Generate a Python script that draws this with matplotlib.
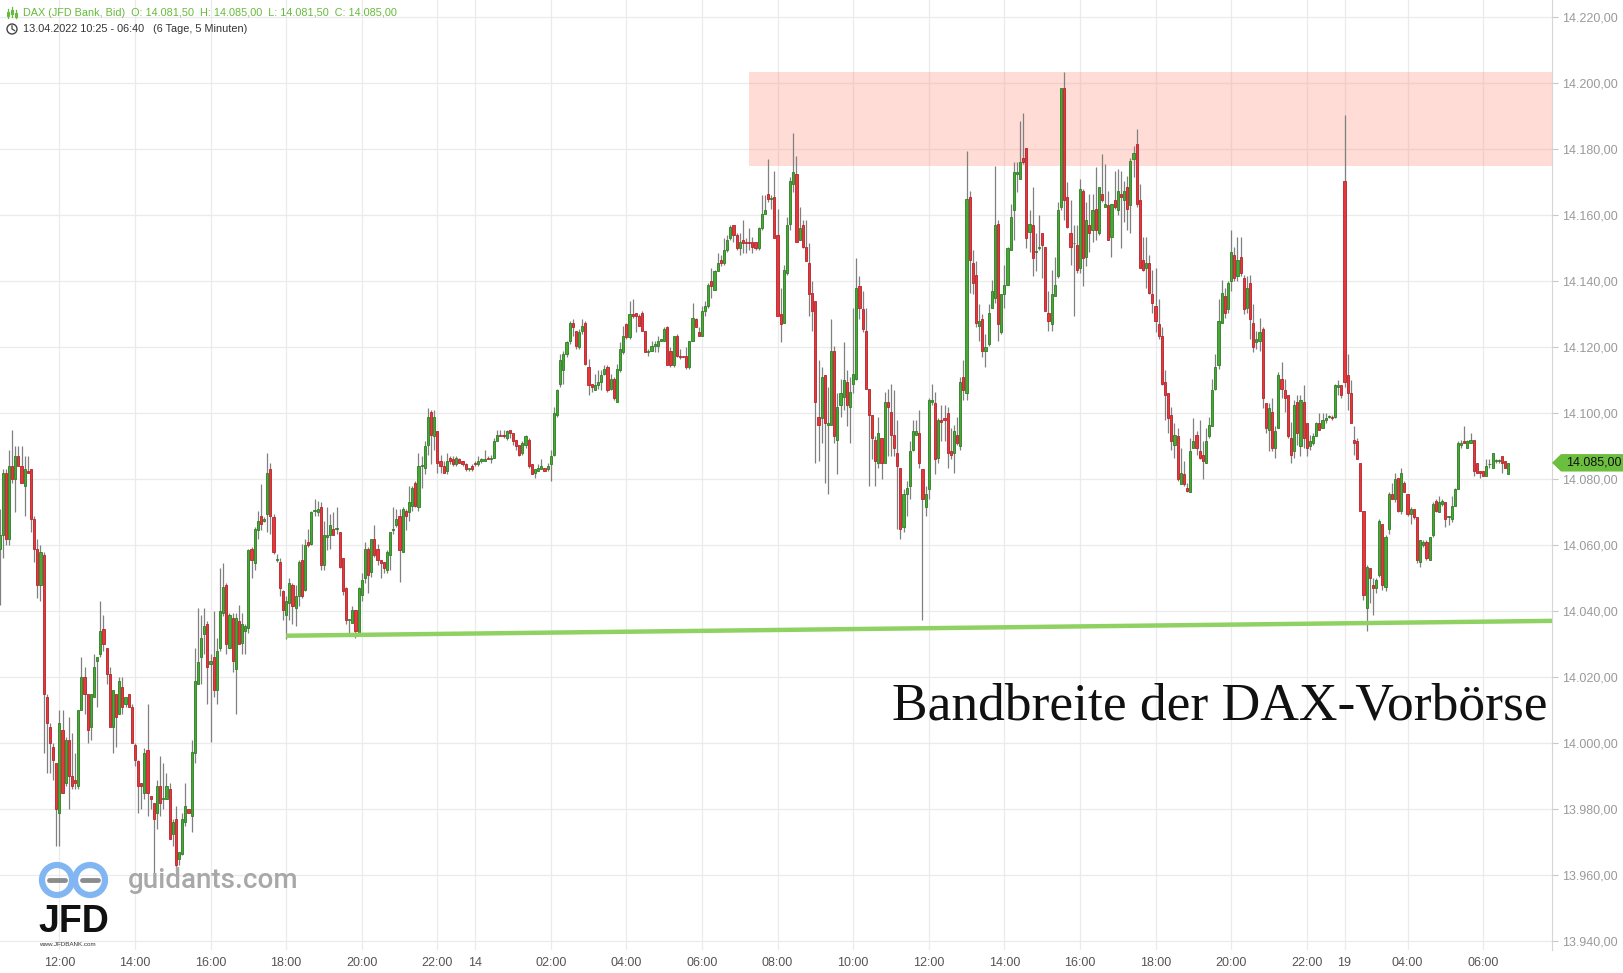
import numpy as np
import pandas as pd
import matplotlib
matplotlib.use("Agg")
import matplotlib.pyplot as plt
from matplotlib.patches import Rectangle, Circle, Polygon

plt.rcParams["font.family"] = ["Liberation Sans", "DejaVu Sans"]

# trading sessions, 5 minute candles (easter weekend is skipped on the axis)
sessions = [
    ("2022-04-13 10:25", "2022-04-13 22:55"),
    ("2022-04-14 00:00", "2022-04-14 22:55"),
    ("2022-04-19 02:20", "2022-04-19 06:40"),
]

opens = [
    14059, 14063, 14082, 14062, 14084, 14080, 14087, 14084, 14078, 14082.5, 14083, 14068,
    14059, 14048, 14057, 14014, 14005, 13999, 13994, 13979, 14004, 13988, 14001, 13990,
    13989, 13987, 14010, 14020, 14015, 14005, 14014, 14025, 14027, 14034.5, 14029, 14021,
    14005, 14015, 14009, 14017, 14012, 14015, 14011, 13999.5, 13994.5, 13988, 13985, 13998,
    13984, 13982, 13979, 13987, 13983, 13983, 13986, 13972.5, 13977, 13965, 13966.5, 13976,
    13980, 13978, 13997, 14018, 14026, 14033, 14036, 14024, 14026, 14016, 14029, 14039.5,
    14048, 14029, 14038, 14022.5, 14037, 14030.5, 14034, 14035, 14059, 14054.5, 14064.5, 14069,
    14067.5, 14069.5, 14083, 14068.5, 14055.5, 14055, 14046, 14039, 14042.5, 14048, 14041, 14044.5,
    14055.5, 14046.5, 14061, 14060.5, 14070.5, 14070, 14071.5, 14054, 14062.5, 14063, 14065, 14065,
    14064, 14056, 14047, 14037.5, 14036.5, 14040.5, 14033.5, 14045, 14050, 14059, 14052, 14062,
    14059, 14055.5, 14055, 14052.5, 14057, 14064.5, 14066, 14069, 14058, 14070.5, 14070, 14072,
    14079, 14071.5, 14084, 14083.5, 14090.5, 14100.5, 14093, 14094.5, 14085.5, 14084, 14082.5, 14086.5,
    14086, 14084.5, 14086, 14085.5, 14084.5, 14083, 14084, 14085, 14084.5, 14085.5, 14085.5, 14086.5,
    14086, 14086.5, 14091.5, 14093.5, 14093.5, 14092.5, 14095, 14094, 14092, 14090.5, 14088, 14090.5,
    14092, 14084.5, 14082, 14082.5, 14083, 14083.5, 14083, 14084.5, 14087.5, 14099.5, 14109, 14113,
    14118, 14122, 14127.5, 14125, 14120, 14125, 14127.5, 14114, 14109, 14107, 14108.5, 14109.5,
    14112, 14114, 14107.5, 14110.5, 14103.5, 14113, 14118.5, 14127, 14123, 14130, 14130.5, 14129.5,
    14130.5, 14125, 14118.5, 14119, 14120.5, 14120.5, 14122, 14122, 14126, 14119, 14114.5, 14123.5,
    14117.5, 14117.5, 14117.5, 14114, 14122, 14128.5, 14124.5, 14123.5, 14131, 14132.5, 14140, 14137.5,
    14143, 14146.5, 14145.5, 14149.5, 14153, 14157, 14154, 14150, 14152.5, 14152, 14152, 14152,
    14152, 14150, 14156, 14160.5, 14166.5, 14165, 14165.5, 14154, 14130, 14127.5, 14142.5, 14157.5,
    14169.5, 14172.5, 14152.5, 14157, 14150.5, 14145.5, 14136.5, 14134, 14099, 14098.5, 14111.5, 14096.5,
    14096.5, 14119, 14092, 14102.5, 14105, 14109.5, 14102, 14109, 14110.5, 14138.5, 14131.5, 14125,
    14107.5, 14099.5, 14092, 14085, 14092.5, 14085, 14103.5, 14100.5, 14093.5, 14088, 14083.5, 14065.5,
    14075.5, 14078, 14089, 14093.5, 14094, 14083, 14071.5, 14077, 14103.5, 14103, 14086.5, 14098,
    14098.5, 14100, 14088.5, 14088, 14093.5, 14090, 14111, 14106, 14165.5, 14145.5, 14142, 14126.5,
    14128.5, 14119, 14121, 14132, 14135, 14157.5, 14124.5, 14136, 14139, 14149.5, 14161.5, 14172.5,
    14171, 14177.5, 14180.5, 14155, 14157, 14149, 14150, 14154.5, 14150.5, 14130.5, 14127, 14135.5,
    14141.5, 14162.5, 14198.5, 14165.5, 14154.5, 14151.5, 14151, 14144, 14167.5, 14147.5, 14157, 14155.5,
    14162, 14154.5, 14166.5, 14162.5, 14163, 14153.5, 14164.5, 14161.5, 14166.5, 14164.5, 14168.5, 14163,
    14177, 14181.5, 14164.5, 14146.5, 14144, 14145.5, 14136, 14132.5, 14127, 14123.5, 14109.5, 14106,
    14099.5, 14090.5, 14093, 14078.5, 14081.5, 14077.5, 14076, 14089.5, 14093.5, 14088.5, 14087.5, 14085,
    14093, 14096, 14107.5, 14114.5, 14127.5, 14135.5, 14131.5, 14140, 14148, 14141.5, 14147.5, 14141,
    14132, 14139.5, 14127.5, 14121.5, 14122, 14125.5, 14103, 14095, 14100.5, 14089.5, 14095.5, 14110.5,
    14107, 14105.5, 14092.5, 14088.5, 14103.5, 14090, 14103.5, 14097, 14090, 14091, 14093, 14097,
    14095.5, 14098, 14099, 14099, 14099, 14108, 14108.5, 14170.5, 14111.5, 14106, 14092, 14091.5,
    14085, 14070.5, 14041, 14053, 14048, 14047, 14051, 14066.5, 14047.5, 14065, 14075.5, 14074,
    14080.5, 14070.5, 14079, 14075.5, 14069.5, 14071, 14068.5, 14055, 14060, 14061, 14055.5, 14063,
    14073.5, 14070, 14072.5, 14073, 14068.5, 14068, 14072, 14077, 14090.5, 14091.5, 14089.5, 14091,
    14092, 14085, 14082.5, 14082.5, 14081, 14084.5, 14083.5, 14085.5, 14085.5, 14087, 14085.5, 14081.5,
]

highs = [
    14071, 14083, 14083, 14089, 14095, 14090, 14090, 14090, 14087, 14087, 14083, 14069,
    14062, 14060, 14058, 14015, 14006, 14000, 13994, 14010, 14010, 14002, 14008, 14003,
    13997, 14010, 14026, 14023, 14015, 14015, 14027, 14026, 14043, 14039, 14029, 14023,
    14016, 14015, 14020, 14020, 14014, 14015, 14012, 14000, 13995, 13988, 13998.5, 14012,
    13984, 13982, 13989, 13996, 13994, 13991, 13988, 13977, 13981, 13967, 13979, 13988,
    13980, 14001, 14029, 14041, 14039, 14041, 14037, 14027, 14040, 14032, 14053, 14054.5,
    14048.5, 14039.5, 14039.5, 14039.5, 14042, 14039.5, 14036, 14059, 14059.5, 14065.5, 14070.5, 14078.5,
    14068.5, 14088, 14085, 14069.5, 14057.5, 14056, 14046.5, 14044.5, 14050, 14048.5, 14048, 14055.5,
    14060.5, 14062, 14065, 14070.5, 14074, 14073.5, 14073, 14067.5, 14071.5, 14069.5, 14070, 14071.5,
    14064, 14056, 14047.5, 14037.5, 14041.5, 14040.5, 14047.5, 14051.5, 14061, 14059.5, 14062, 14066,
    14060.5, 14055.5, 14055, 14058.5, 14064, 14071.5, 14071, 14071, 14071.5, 14071, 14078, 14078,
    14079.5, 14088, 14087, 14091.5, 14101.5, 14101, 14101, 14094.5, 14087.5, 14085.5, 14088, 14087,
    14087, 14087, 14086.5, 14085.5, 14085, 14083.5, 14084.5, 14085.5, 14087, 14086.5, 14089, 14087,
    14087.5, 14092.5, 14095, 14095, 14095, 14095, 14095, 14094, 14092, 14090.5, 14091.5, 14093.5,
    14092.5, 14084.5, 14083, 14084.5, 14086, 14083.5, 14085, 14089, 14102, 14107.5, 14118, 14119,
    14122, 14128, 14128.5, 14125, 14125.5, 14128.5, 14128, 14116.5, 14109, 14112, 14113, 14113,
    14114.5, 14114.5, 14112, 14111, 14115, 14121.5, 14126.5, 14127.5, 14134, 14134.5, 14130.5, 14130,
    14131, 14125, 14119.5, 14122, 14122, 14123.5, 14122.5, 14126, 14126.5, 14120, 14123.5, 14124,
    14119.5, 14117.5, 14120, 14122, 14133.5, 14129, 14126, 14132.5, 14134, 14139.5, 14144, 14143.5,
    14148.5, 14148, 14153, 14154, 14157, 14157, 14154.5, 14154.5, 14158.5, 14153, 14156, 14153.5,
    14152, 14156.5, 14166, 14166, 14177, 14166, 14173.5, 14162, 14138, 14145, 14159.5, 14171.5,
    14185, 14178, 14162.5, 14158.5, 14158.5, 14151.5, 14140, 14134, 14116, 14114, 14111.5, 14108,
    14128.5, 14120.5, 14106, 14110.5, 14121.5, 14113, 14111, 14132, 14147, 14141.5, 14137, 14132,
    14107.5, 14099.5, 14093, 14099, 14092.5, 14106.5, 14107.5, 14109, 14107, 14098, 14083.5, 14077,
    14079.5, 14091.5, 14098, 14098, 14101, 14083, 14078, 14104.5, 14109, 14106.5, 14098.5, 14102.5,
    14102.5, 14102, 14095.5, 14096.5, 14099, 14111, 14116, 14179.5, 14167.5, 14149.5, 14146, 14133,
    14130, 14124, 14133, 14140.5, 14175, 14158.5, 14136, 14145, 14150.5, 14163.5, 14176, 14176,
    14188.5, 14191, 14180.5, 14161.5, 14168.5, 14154.5, 14160, 14154.5, 14150.5, 14137, 14143.5, 14147.5,
    14164, 14198.5, 14203.5, 14170, 14164.5, 14157, 14157, 14171, 14168, 14164, 14166.5, 14166.5,
    14174.5, 14168.5, 14178.5, 14175.5, 14167.5, 14163.5, 14173.5, 14174, 14173.5, 14170.5, 14172, 14177.5,
    14181, 14186, 14169.5, 14153.5, 14153.5, 14148, 14143.5, 14144, 14134.5, 14126, 14113, 14106,
    14102, 14097, 14095.5, 14089.5, 14085.5, 14079, 14092.5, 14098.5, 14094.5, 14098, 14091.5, 14095.5,
    14099, 14110.5, 14118, 14134.5, 14140.5, 14138, 14140, 14155.5, 14150.5, 14153.5, 14153.5, 14142,
    14141.5, 14142, 14133, 14125, 14129, 14126, 14103, 14103, 14104.5, 14096, 14112.5, 14115.5,
    14110.5, 14105.5, 14097.5, 14104, 14105.5, 14105.5, 14108.5, 14097, 14093.5, 14094, 14097.5, 14100,
    14100, 14100, 14099.5, 14099.5, 14109, 14110, 14108.5, 14190.5, 14118, 14110, 14096, 14092.5,
    14085, 14070.5, 14054, 14053, 14050, 14050, 14068, 14066.5, 14063, 14076, 14079, 14082,
    14080.5, 14083.5, 14079.5, 14075.5, 14071.5, 14071, 14068.5, 14061.5, 14061.5, 14061.5, 14062.5, 14073,
    14074, 14075, 14074, 14073, 14069, 14075, 14077.5, 14091.5, 14092, 14096, 14092, 14094,
    14092, 14085, 14082.5, 14082.5, 14086, 14086, 14088, 14086, 14086, 14087, 14085.5, 14085,
]

lows = [
    14042, 14056, 14060, 14060, 14079, 14070, 14084, 14079, 14069, 14082, 14064, 14055,
    14044, 14043, 13997, 13991, 13991, 13989, 13969, 13969, 13985, 13987, 13980, 13986,
    13986, 13986, 14010, 14009, 14000, 14001, 14014, 14011, 14026, 14028, 14018, 14005,
    13997, 13999, 14009, 14009, 14011, 14011, 14000, 13993, 13979, 13980, 13983, 13978,
    13980, 13959, 13974, 13978, 13980, 13983, 13971, 13969, 13961, 13963, 13966, 13975,
    13979, 13973, 13994, 14018, 14018, 14027, 14012, 14000.5, 14014, 14012, 14028, 14038.5,
    14027, 14029, 14021.5, 14009, 14030, 14027, 14027, 14033.5, 14050, 14052.5, 14062, 14064.5,
    14067, 14064, 14063.5, 14057.5, 14055, 14044.5, 14037.5, 14031.5, 14037.5, 14036, 14035.5, 14041.5,
    14044, 14046, 14059.5, 14060, 14069, 14069, 14052.5, 14052.5, 14058.5, 14059, 14063, 14063.5,
    14053, 14045, 14036, 14033.5, 14036.5, 14032, 14033, 14043, 14048.5, 14045.5, 14050.5, 14056.5,
    14054, 14050, 14051.5, 14051.5, 14052.5, 14063.5, 14065.5, 14049, 14058, 14064.5, 14067.5, 14070.5,
    14071.5, 14070.5, 14077.5, 14081.5, 14087.5, 14084.5, 14089, 14082, 14082, 14082, 14081.5, 14084.5,
    14084, 14084, 14085, 14084, 14082.5, 14082.5, 14082.5, 14084, 14084, 14085, 14085.5, 14086,
    14085, 14086.5, 14091.5, 14093, 14092.5, 14092, 14092.5, 14090.5, 14089, 14087, 14087.5, 14089.5,
    14083.5, 14081.5, 14080.5, 14082.5, 14083, 14082.5, 14082.5, 14079.5, 14087, 14099, 14108, 14109,
    14117, 14121, 14123.5, 14119.5, 14119.5, 14124, 14114.5, 14105.5, 14106.5, 14107, 14107.5, 14107,
    14111.5, 14106.5, 14107, 14104, 14103.5, 14112.5, 14118, 14122.5, 14122.5, 14129, 14124.5, 14126.5,
    14125, 14118.5, 14117.5, 14119, 14118.5, 14118.5, 14122, 14122, 14114.5, 14114, 14114, 14117,
    14116.5, 14117, 14113.5, 14113.5, 14122, 14126, 14123.5, 14123.5, 14129.5, 14132, 14135, 14137.5,
    14143, 14144.5, 14145, 14149, 14152.5, 14152, 14149.5, 14148, 14148.5, 14148.5, 14149.5, 14148.5,
    14149.5, 14149.5, 14155.5, 14160.5, 14164, 14162, 14153, 14129.5, 14121.5, 14127.5, 14142, 14155.5,
    14167, 14152, 14152.5, 14150, 14146, 14129.5, 14125, 14085, 14085.5, 14091, 14079, 14075.5,
    14096.5, 14091, 14081.5, 14099, 14101, 14096, 14091, 14106, 14110, 14128.5, 14124.5, 14107.5,
    14078, 14086, 14078, 14083.5, 14080, 14085, 14087, 14087, 14087, 14065, 14062, 14064,
    14069, 14074, 14088.5, 14093.5, 14083.5, 14037.5, 14069, 14074, 14102.5, 14081.5, 14085, 14091.5,
    14091.5, 14083.5, 14086, 14082, 14090.5, 14089, 14104, 14104, 14136.5, 14136, 14126, 14122,
    14117, 14114, 14120.5, 14132, 14133.5, 14122, 14124, 14132, 14139, 14149.5, 14152.5, 14167,
    14171, 14175.5, 14150, 14149, 14141.5, 14143, 14149.5, 14141, 14131, 14125, 14125, 14135.5,
    14141, 14161.5, 14158.5, 14156, 14145, 14129.5, 14142.5, 14142.5, 14138.5, 14144.5, 14149, 14152,
    14152.5, 14154, 14164, 14162.5, 14152.5, 14147.5, 14162, 14160, 14150, 14158, 14155.5, 14154.5,
    14171.5, 14162.5, 14144, 14143, 14138, 14136, 14130.5, 14124.5, 14122.5, 14108.5, 14098, 14094,
    14089, 14086.5, 14079.5, 14078.5, 14078, 14076, 14076, 14089.5, 14087.5, 14086, 14080, 14085,
    14092.5, 14096, 14107, 14113.5, 14127.5, 14129, 14130.5, 14137, 14140, 14140, 14141.5, 14130,
    14130.5, 14122.5, 14118.5, 14119.5, 14119, 14101.5, 14094, 14088.5, 14088.5, 14086.5, 14095.5, 14104.5,
    14100.5, 14092.5, 14085, 14086.5, 14090.5, 14087, 14089.5, 14087, 14089, 14090.5, 14093, 14095,
    14095.5, 14097, 14098.5, 14098, 14098.5, 14105.5, 14104.5, 14108, 14101, 14097, 14087.5, 14086,
    14070.5, 14043.5, 14034, 14042.5, 14039, 14045.5, 14050.5, 14046.5, 14046, 14063.5, 14074, 14073,
    14070, 14069.5, 14076, 14069, 14066.5, 14068, 14054.5, 14053.5, 14059.5, 14055.5, 14055.5, 14062.5,
    14070, 14070, 14072, 14065.5, 14066, 14067, 14072, 14077, 14089.5, 14091, 14089.5, 14091,
    14081, 14082, 14080.5, 14081, 14081, 14083.5, 14083.5, 14085, 14085, 14082, 14083.5, 14081.5,
]

closes = [
    14063, 14082, 14062, 14084, 14080, 14087, 14084, 14079, 14083, 14082, 14068, 14059,
    14048, 14058, 14015, 14006, 14000, 13995, 13980, 14006, 13985, 14001, 13990, 13987,
    13988, 14010, 14020, 14015, 14004, 14015, 14023, 14026, 14034, 14030, 14021, 14005,
    14016, 14008, 14019, 14011, 14014, 14011, 14000, 13995, 13987, 13987, 13997, 13985,
    13983, 13977, 13987, 13982, 13983.5, 13987, 13971, 13976, 13963, 13967, 13977, 13981,
    13979, 13997.5, 14019, 14024.5, 14032, 14035.5, 14023, 14025, 14016, 14028, 14040, 14047.5,
    14030, 14039, 14025, 14038, 14030, 14036, 14035.5, 14058.5, 14055.5, 14065, 14067.5, 14066.5,
    14068, 14082, 14069, 14058, 14055.5, 14047, 14040.5, 14043, 14048.5, 14041.5, 14044.5, 14055,
    14044.5, 14060, 14060, 14070, 14070.5, 14071, 14054, 14063, 14063, 14066, 14063, 14065,
    14053.5, 14046, 14037.5, 14037.5, 14040.5, 14034, 14047, 14049.5, 14059, 14051, 14062, 14057,
    14055.5, 14054.5, 14053, 14058, 14064, 14065, 14068, 14058.5, 14071, 14069, 14073, 14077.5,
    14072, 14084, 14084, 14090, 14099, 14093.5, 14099, 14085, 14084, 14082, 14085.5, 14085.5,
    14084.5, 14086.5, 14085, 14084.5, 14083, 14083.5, 14083, 14084.5, 14085.5, 14086, 14086, 14086,
    14086.5, 14091.5, 14093.5, 14093, 14093, 14094.5, 14094, 14091.5, 14090, 14087.5, 14091, 14093,
    14084, 14081.5, 14083, 14083.5, 14084, 14082.5, 14084, 14087, 14100, 14107, 14116, 14118,
    14121.5, 14127.5, 14126, 14120.5, 14124.5, 14126.5, 14115, 14108.5, 14108, 14108.5, 14109.5, 14111.5,
    14113.5, 14107, 14110.5, 14104.5, 14113.5, 14119.5, 14123.5, 14123, 14130, 14129.5, 14129.5, 14126.5,
    14125, 14118.5, 14119, 14120.5, 14121, 14122, 14122.5, 14125.5, 14114.5, 14114.5, 14123.5, 14117.5,
    14117, 14117, 14114, 14122, 14129, 14126, 14123.5, 14131, 14132.5, 14139, 14138.5, 14143,
    14145.5, 14145.5, 14149.5, 14152.5, 14156.5, 14154, 14150, 14152, 14151.5, 14151.5, 14151.5, 14150.5,
    14150, 14156, 14160.5, 14161.5, 14165, 14165, 14153, 14129.5, 14127, 14143.5, 14157, 14170.5,
    14173, 14152, 14156, 14150.5, 14146, 14136, 14131, 14103.5, 14096.5, 14111, 14097, 14097,
    14119, 14093, 14102, 14106, 14110, 14102.5, 14106.5, 14112, 14138, 14132, 14125.5, 14107.5,
    14099.5, 14092.5, 14085.5, 14094, 14085, 14103.5, 14102, 14093.5, 14089.5, 14084, 14065, 14075.5,
    14077.5, 14088.5, 14094.5, 14094.5, 14085, 14074, 14075.5, 14104, 14104, 14086, 14098, 14097.5,
    14098, 14088, 14087.5, 14094.5, 14091, 14109.5, 14107, 14165, 14146.5, 14139.5, 14127.5, 14128,
    14119, 14120, 14130.5, 14137, 14157, 14127, 14136, 14139, 14150, 14159.5, 14173, 14173,
    14176, 14176, 14153, 14157.5, 14147, 14149, 14150.5, 14151, 14131, 14128, 14136, 14139,
    14161.5, 14198.5, 14164.5, 14156.5, 14150.5, 14151.5, 14143.5, 14168, 14147, 14158.5, 14154.5, 14161.5,
    14155.5, 14168.5, 14164.5, 14163.5, 14152.5, 14163.5, 14162.5, 14167.5, 14165.5, 14167.5, 14162, 14176.5,
    14179, 14163.5, 14144, 14143.5, 14145.5, 14136.5, 14133.5, 14128, 14123.5, 14109, 14105.5, 14098.5,
    14091.5, 14093.5, 14080, 14082, 14078.5, 14076.5, 14088.5, 14091.5, 14089.5, 14086.5, 14085.5, 14091.5,
    14096.5, 14107, 14114, 14128, 14136.5, 14130.5, 14139.5, 14149, 14141, 14146.5, 14142.5, 14131.5,
    14138, 14128.5, 14120, 14122.5, 14124.5, 14104.5, 14095.5, 14101.5, 14089.5, 14094.5, 14111.5, 14107.5,
    14104.5, 14093, 14087.5, 14102.5, 14094, 14104, 14092.5, 14089.5, 14091.5, 14093, 14097, 14095,
    14098, 14098.5, 14099, 14098.5, 14108.5, 14108.5, 14105.5, 14109.5, 14106, 14097, 14091, 14086,
    14070.5, 14045, 14053.5, 14050, 14047, 14049.5, 14067.5, 14048, 14062.5, 14075.5, 14074, 14080,
    14070.5, 14082, 14076, 14069.5, 14071, 14068.5, 14055.5, 14061.5, 14061, 14056, 14062.5, 14072.5,
    14070.5, 14073, 14073.5, 14068, 14069, 14072, 14077, 14091, 14091, 14091, 14091.5, 14092,
    14082.5, 14082, 14082, 14081, 14084, 14084.5, 14088, 14085.5, 14085.5, 14085, 14083.5, 14085,
]

zone_start = "2022-04-14 07:15"
zone_low, zone_high = 14175, 14203.5
support_start = "2022-04-13 18:00"
support_levels = (14032.6, 14037.1)

title_text = "Bandbreite der DAX-Vorbörse"


def de(v):
    return f"{v:,.2f}".replace(",", "X").replace(".", ",").replace("X", ".")


times = pd.DatetimeIndex([t for a, b in sessions for t in pd.date_range(a, b, freq="5min")])
o = np.array(opens, float)
h = np.array(highs, float)
l = np.array(lows, float)
c = np.array(closes, float)
h = np.maximum(h, np.maximum(o, c))
l = np.minimum(l, np.minimum(o, c))
x = np.arange(len(c))

# tick labels: every 2 hours, day number at first candle of a new day
tick_pos, tick_lab = [], []
for k, t in enumerate(times):
    if k > 0 and t.date() != times[k - 1].date():
        tick_pos.append(k)
        tick_lab.append(str(t.day))
    elif t.minute == 0 and t.hour % 2 == 0:
        tick_pos.append(k)
        tick_lab.append(t.strftime("%H:%M"))

W, H = 1623, 973
fig = plt.figure(figsize=(W / 100, H / 100), dpi=100)
ax_right = 1552
ax_bottom = 950
ax = fig.add_axes([0, (H - ax_bottom) / H, ax_right / W, ax_bottom / H])

px_per_candle = 3.15
x0 = 0.5 / px_per_candle
x1 = (ax_right + 0.5) / px_per_candle
ax.set_xlim(x0, x1)
ax.set_ylim(14100 - (ax_bottom - 413.3) / 3.3, 14100 + 413.3 / 3.3)

# grid
yt = np.arange(13940, 14221, 20)
ax.set_yticks(yt)
ax.set_yticklabels([de(v) for v in yt])
ax.set_xticks(tick_pos)
ax.set_xticklabels(tick_lab)
ax.grid(True, color="#ebebeb", lw=0.9, zorder=0)
ax.set_axisbelow(True)
ax.yaxis.tick_right()
ax.tick_params(axis="y", length=4, color="#c8c8c8", pad=3, labelsize=9, labelcolor="#9a9a9a")
ax.tick_params(axis="x", length=0, pad=5, labelsize=9, labelcolor="#555555")
for s in ["top", "left", "bottom"]:
    ax.spines[s].set_visible(False)
ax.spines["right"].set_color("#d5d5d5")

# resistance zone
zx = times.get_loc(pd.Timestamp(zone_start))
ax.add_patch(Rectangle((zx, zone_low), x1 - zx, zone_high - zone_low,
                       facecolor="#ff8c7a", alpha=0.3, lw=0, zorder=1))

# candles
up = c >= o
fill = np.where(up, "#47a836", "#e6373a")
edge = np.where(up, "#2e7d22", "#b3242a")
ax.vlines(x, l, h, color="#808080", lw=0.9, zorder=2)
ax.bar(x, np.maximum(np.abs(c - o), 0.25), bottom=np.minimum(o, c), width=0.68,
       color=fill, edgecolor=edge, linewidth=0.6, zorder=3)

# support line
sx = times.get_loc(pd.Timestamp(support_start))
ax.plot([sx, x1], list(support_levels), color="#8fd162", lw=3.2,
        solid_capstyle="butt", zorder=4, clip_on=True)

# last price tag
tr = ax.get_yaxis_transform()
last = c[-1]
tip = 9 / ax_right
tag_w = (W - ax_right) / ax_right
half = 2.65
ax.add_patch(Polygon([(1.0, last), (1 + tip, last + half), (1 + tag_w, last + half),
                      (1 + tag_w, last - half), (1 + tip, last - half)],
                     closed=True, transform=tr, facecolor="#6cbf3e", edgecolor="none",
                     clip_on=False, zorder=6))
ax.text(1 + 14 / ax_right, last, de(last), transform=tr, va="center", ha="left",
        fontsize=9, color="#111111", zorder=7, clip_on=False)

# overlay in pixel coordinates for header and logos
ov = fig.add_axes([0, 0, 1, 1])
ov.set_xlim(0, W)
ov.set_ylim(H, 0)
ov.axis("off")
ov.set_zorder(5)

hdr = (f"DAX (JFD Bank, Bid)  O: {de(o[-1])}  H: {de(h[-1])}  "
       f"L: {de(l[-1])}  C: {de(c[-1])}")
ov.text(23, 13.5, hdr, color="#66bb3a", fontsize=7.85, va="center", ha="left")
sub = f"{times[0]:%d.%m.%Y %H:%M} - {times[-1]:%H:%M}   (6 Tage, 5 Minuten)"
ov.text(23, 29.5, sub, color="#333333", fontsize=7.85, va="center", ha="left")
# tiny chart icon
for bx, b0, b1 in [(8, 9, 18), (12, 7, 17), (16, 10, 18)]:
    ov.plot([bx, bx], [b0, b1], color="#66bb3a", lw=0.9)
    ov.add_patch(Rectangle((bx - 1.3, b0 + 3), 2.6, 4, facecolor="white",
                           edgecolor="#66bb3a", lw=0.8))
# clock icon
ov.add_patch(Circle((12, 29), 5, fill=False, ec="#444444", lw=1.0))
ov.plot([12, 12, 14.5], [25.8, 29, 30.5], color="#444444", lw=0.9)

# big caption
ov.text(1547, 719, title_text, family=["Liberation Serif", "DejaVu Serif"],
        fontsize=38.5, ha="right", va="baseline", color="#111111")

# guidants / JFD logo
for cx in (57, 90):
    ov.add_patch(Circle((cx, 880), 15, fill=False, ec="#82b6f2", lw=4.5))
    ov.plot([cx - 8, cx + 8], [880, 880], color="#8c8c8c", lw=3.5, solid_capstyle="round")
ov.text(128, 881, "guidants.com", family=["Roboto", "DejaVu Sans"], fontsize=20,
        weight="medium", color="#a8a8a8", va="center", ha="left")
ov.text(38, 922, "JFD", fontsize=27, weight="bold", color="#111111", va="center", ha="left")
ov.text(39, 945, "www.JFDBANK.com", fontsize=4.5, color="#333333", va="center", ha="left")

fig.savefig("out.png", dpi=100)
